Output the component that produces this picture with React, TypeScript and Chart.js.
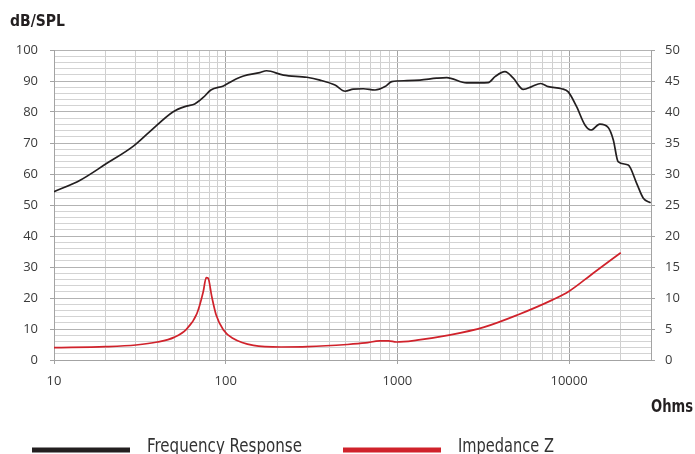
import React, { useEffect, useRef } from "react";
import { Chart, registerables } from "chart.js";

Chart.register(...registerables);

// Frequency response (dB SPL)
const frFreq = [10, 14.2, 20, 29, 36, 49.5, 59, 66, 74, 82, 97, 110, 127, 158, 173, 217, 297, 354, 433, 496, 554, 633, 741, 847, 927, 1133, 1355, 1693, 1937, 2533, 3384, 3703, 4232, 4734, 5410, 6057, 6833, 7568, 9055, 9890, 11060, 12370, 13400, 15100, 16900, 18100, 19300, 22100, 24750, 27060, 29850];
const frSpl = [54.3, 58, 63.2, 69, 73.6, 80.1, 81.9, 82.6, 84.7, 87.1, 88.4, 90.1, 91.6, 92.7, 93.3, 91.9, 91.2, 90.3, 88.7, 86.7, 87.4, 87.5, 87.1, 88.2, 89.8, 90.1, 90.3, 90.9, 91.1, 89.4, 89.5, 91.4, 93.0, 90.9, 87.3, 88.2, 89.2, 88.2, 87.5, 86.5, 81.7, 75.8, 74.2, 76.1, 75, 71, 64, 62.9, 57, 52.2, 50.7];

// Impedance (Ohms)
const zFreq = [10, 20, 30, 40, 50, 59, 68, 74, 77, 79, 83, 88, 97, 110, 145, 210, 300, 510, 650, 790, 887, 987, 1300, 2000, 3200, 5000, 8000, 10000, 13800, 20000];
const zOhm = [1.98, 2.15, 2.42, 2.9, 3.65, 4.95, 7.5, 11.0, 13.3, 13.2, 10.2, 7.26, 4.84, 3.5, 2.35, 2.1, 2.15, 2.5, 2.75, 3.1, 3.1, 2.9, 3.2, 4.0, 5.3, 7.26, 9.7, 11.1, 14.0, 17.3];

const seriesNames = ["Frequency Response", "Impedance Z"];
const leftTitle = "dB/SPL";
const xTitle = "Ohms";

const xGridValues = [10, 20, 30, 40, 50, 60, 70, 80, 90, 100, 200, 300, 400, 500, 600, 700, 800, 900, 1000, 2000, 3000, 4000, 5000, 6000, 7000, 8000, 9000, 10000, 20000, 30000];
const xLabelValues = [10, 100, 1000, 10000];
const leftGridValues = [0, 2, 4, 6, 8, 10, 12, 14, 16, 18, 20, 22, 24, 26, 28, 30, 32, 34, 36, 38, 40, 42, 44, 46, 48, 50, 52, 54, 56, 58, 60, 62, 64, 66, 68, 70, 72, 74, 76, 78, 80, 82, 84, 86, 88, 90, 92, 94, 96, 98, 100];
const leftLabelValues = [0, 10, 20, 30, 40, 50, 60, 70, 80, 90, 100];
const rightTickValues = [0, 5, 10, 15, 20, 25, 30, 35, 40, 45, 50];

const COND = '"Liberation Sans Narrow", "DejaVu Sans Condensed", "Arial Narrow", sans-serif';
const BLACK = "#231f20";
const RED = "#d0222b";

function drawFit(ctx: CanvasRenderingContext2D, text: string, x: number, y: number, width: number, align: "left" | "right") {
  const w = ctx.measureText(text).width;
  const s = w > 0 ? width / w : 1;
  ctx.save();
  ctx.translate(x, y);
  ctx.scale(s, 1);
  ctx.textAlign = align;
  ctx.fillText(text, 0, 0);
  ctx.restore();
}

export default function App() {
  const ref = useRef<HTMLCanvasElement | null>(null);

  useEffect(() => {
    document.body.style.margin = "0";
    const canvas = ref.current;
    if (!canvas) return;

    const textPlugin = {
      id: "customTexts",
      afterDraw(chart: any) {
        const ctx = chart.ctx as CanvasRenderingContext2D;
        ctx.save();
        ctx.fillStyle = BLACK;
        ctx.textBaseline = "alphabetic";
        ctx.font = "bold 16px " + COND;
        drawFit(ctx, leftTitle, 10, 26, 55, "left");
        ctx.font = "bold 18px " + COND;
        drawFit(ctx, xTitle, 693, 412, 42, "right");
        // legend
        const items = [
          { color: BLACK, x0: 32, x1: 130, tx: 147, w: 155, label: seriesNames[0] },
          { color: RED, x0: 343, x1: 441, tx: 458, w: 96, label: seriesNames[1] },
        ];
        ctx.font = "19px " + COND;
        items.forEach((it) => {
          ctx.strokeStyle = it.color;
          ctx.lineWidth = 5;
          ctx.beginPath();
          ctx.moveTo(it.x0, 450);
          ctx.lineTo(it.x1, 450);
          ctx.stroke();
          ctx.fillStyle = "#333333";
          drawFit(ctx, it.label, it.tx, 452, it.w, "left");
        });
        ctx.restore();
      },
    };

    const tickFont = { family: "'Open Sans', sans-serif", size: 13 };
    const tickColor = "#3a3a3a";

    const chart = new Chart(canvas, {
      type: "line",
      data: {
        datasets: [
          {
            label: seriesNames[0],
            data: frFreq.map((f, i) => ({ x: f, y: frSpl[i] })),
            borderColor: BLACK,
            backgroundColor: BLACK,
            borderWidth: 1.7,
            pointRadius: 0,
            cubicInterpolationMode: "monotone",
            yAxisID: "y",
          },
          {
            label: seriesNames[1],
            data: zFreq.map((f, i) => ({ x: f, y: zOhm[i] })),
            borderColor: RED,
            backgroundColor: RED,
            borderWidth: 1.7,
            pointRadius: 0,
            cubicInterpolationMode: "monotone",
            yAxisID: "y1",
          },
        ],
      },
      options: {
        responsive: false,
        animation: false,
        devicePixelRatio: 1,
        layout: { padding: { top: 50, left: 0, right: 0, bottom: 0 } },
        plugins: { legend: { display: false }, tooltip: { enabled: false } },
        scales: {
          x: {
            type: "logarithmic",
            min: 10,
            max: 30000,
            afterBuildTicks: (scale: any) => {
              scale.ticks = xGridValues.map((v) => ({ value: v }));
            },
            afterFit: (scale: any) => {
              scale.height = 94;
            },
            ticks: {
              autoSkip: false,
              maxRotation: 0,
              minRotation: 0,
              padding: 9,
              font: tickFont,
              color: tickColor,
              callback: (v: any) => (xLabelValues.includes(Number(v)) ? String(v) : ""),
            },
            grid: {
              color: (c: any) => (c.tick && xLabelValues.includes(c.tick.value) ? "#a3a3a3" : "#cfcfcf"),
              tickColor: (c: any) => (c.tick && xLabelValues.includes(c.tick.value) ? "#a3a3a3" : "rgba(0,0,0,0)"),
              tickLength: 4,
              lineWidth: 1,
            },
            border: { display: true, color: "#a3a3a3" },
          },
          y: {
            type: "linear",
            position: "left",
            min: 0,
            max: 100,
            afterBuildTicks: (scale: any) => {
              scale.ticks = leftGridValues.map((v) => ({ value: v }));
            },
            afterFit: (scale: any) => {
              scale.width = 54;
            },
            ticks: {
              autoSkip: false,
              padding: 12,
              font: tickFont,
              color: tickColor,
              callback: (v: any) => (leftLabelValues.includes(Number(v)) ? String(v) : ""),
            },
            grid: {
              color: (c: any) => (c.tick && leftLabelValues.includes(c.tick.value) ? "#b3b3b3" : "#d3d3d3"),
              tickColor: (c: any) => (c.tick && leftLabelValues.includes(c.tick.value) ? "#a3a3a3" : "rgba(0,0,0,0)"),
              tickLength: 4,
              lineWidth: 1,
            },
            border: { display: true, color: "#a3a3a3" },
          },
          y1: {
            type: "linear",
            position: "right",
            min: 0,
            max: 50,
            afterBuildTicks: (scale: any) => {
              scale.ticks = rightTickValues.map((v) => ({ value: v }));
            },
            afterFit: (scale: any) => {
              scale.width = 44;
            },
            ticks: {
              autoSkip: false,
              padding: 10,
              font: tickFont,
              color: tickColor,
            },
            grid: {
              drawOnChartArea: false,
              color: "#a3a3a3",
              tickColor: "#a3a3a3",
              tickLength: 4,
            },
            border: { display: true, color: "#a3a3a3" },
          },
        },
      },
      plugins: [textPlugin],
    } as any);

    return () => chart.destroy();
  }, []);

  return (
    <div style={{ width: 695, height: 454, position: "relative", background: "#ffffff" }}>
      <canvas ref={ref} width={695} height={454} style={{ display: "block" }} />
    </div>
  );
}
